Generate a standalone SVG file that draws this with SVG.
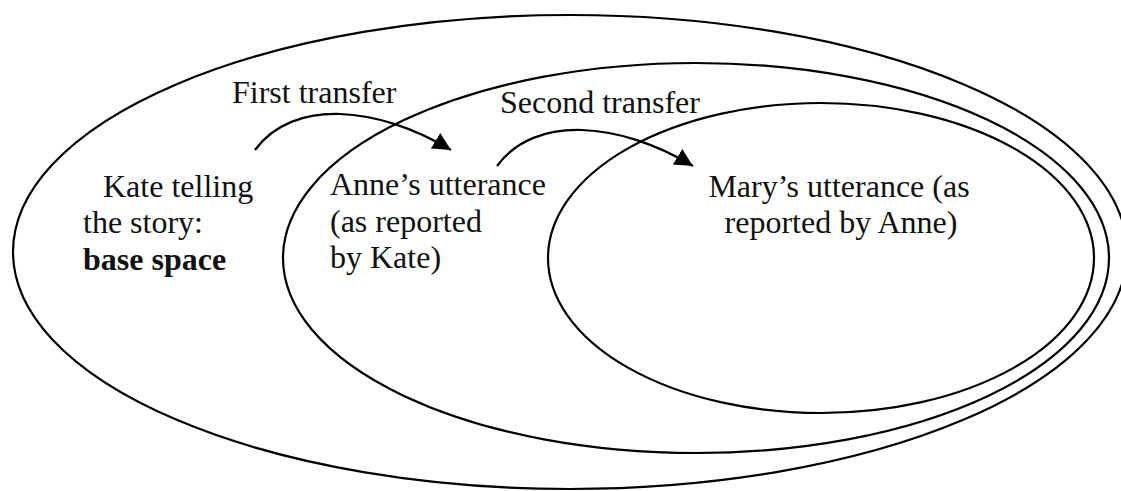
<svg xmlns="http://www.w3.org/2000/svg" width="1121" height="491" viewBox="0 0 1121 491">
  <style>
    .space { fill: none; stroke: #000; stroke-width: 2.2; }
    .link { fill: none; stroke: #000; stroke-width: 2.2; }
    .label { font-family: 'Liberation Serif', Tinos, 'Times New Roman', 'DejaVu Serif', serif; font-size: 32px; fill: #111; }
    .bold { font-weight: bold; }
  </style>
  <defs>
    <marker id="arrowhead" markerUnits="userSpaceOnUse" markerWidth="19" markerHeight="20" viewBox="0 -10 19 20" refX="18" refY="0" orient="auto">
      <path d="M0,-9 L18,0 L0,9 z" fill="#000"/>
    </marker>
  </defs>
  <rect width="1121" height="491" fill="#fff"/>

  <!-- Base space: Kate telling the story -->
  <g id="base-space">
    <ellipse class="space" cx="570" cy="252" rx="557" ry="237"/>
    <text class="label" x="103" y="197">Kate telling</text>
    <text class="label" x="83" y="233">the story:</text>
    <text class="label bold" x="83" y="270">base space</text>
  </g>

  <!-- Anne's utterance -->
  <g id="anne-space">
    <ellipse class="space" cx="696" cy="258" rx="413" ry="195"/>
    <text class="label" x="330" y="195">Anne’s utterance</text>
    <text class="label" x="330" y="232">(as reported</text>
    <text class="label" x="330" y="268">by Kate)</text>
  </g>

  <!-- Mary's utterance -->
  <g id="mary-space">
    <ellipse class="space" cx="821" cy="258" rx="273" ry="155"/>
    <text class="label" x="839" y="197" text-anchor="middle">Mary’s utterance (as</text>
    <text class="label" x="841" y="233" text-anchor="middle">reported by Anne)</text>
  </g>

  <!-- Transfers between spaces -->
  <g id="connectors">
    <path class="link" d="M255,150 C293,98 378,106 451,150" marker-end="url(#arrowhead)"/>
    <text class="label" x="232" y="103">First transfer</text>
    <path class="link" d="M497,166 C535,114 620,122 693,166" marker-end="url(#arrowhead)"/>
    <text class="label" x="500" y="113">Second transfer</text>
  </g>
</svg>
